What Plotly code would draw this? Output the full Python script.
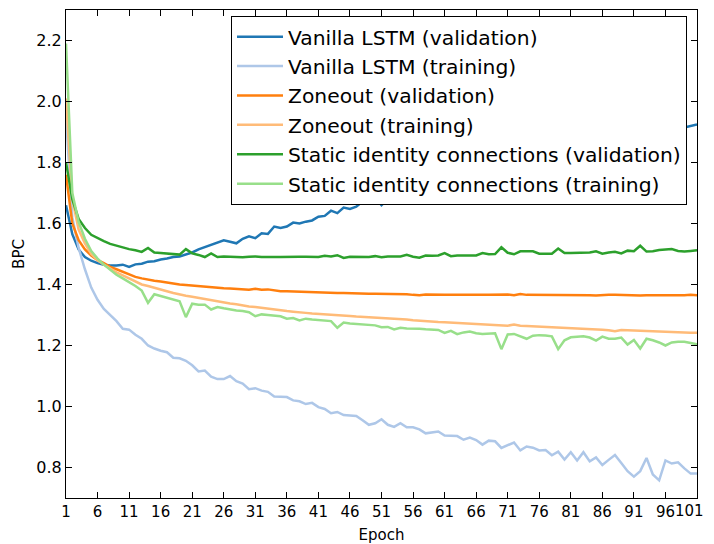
import plotly.graph_objects as go

epochs = list(range(1, 102))

vanilla_val = [
    1.66, 1.565, 1.515, 1.49, 1.478, 1.470, 1.465, 1.462, 1.462, 1.465,
    1.458, 1.466, 1.468, 1.475, 1.476, 1.482, 1.485, 1.49, 1.492, 1.498,
    1.505, 1.515, 1.522, 1.53, 1.536, 1.545, 1.54, 1.535, 1.55, 1.558,
    1.552, 1.568, 1.566, 1.59, 1.585, 1.59, 1.603, 1.60, 1.606, 1.61,
    1.622, 1.625, 1.642, 1.634, 1.652, 1.648, 1.655, 1.672, 1.678, 1.685,
    1.66, 1.68, 1.69, 1.695, 1.70, 1.71, 1.705, 1.715, 1.72, 1.73,
    1.725, 1.735, 1.74, 1.745, 1.75, 1.748, 1.76, 1.765, 1.77, 1.772,
    1.78, 1.785, 1.79, 1.788, 1.80, 1.805, 1.81, 1.815, 1.82, 1.818,
    1.83, 1.835, 1.84, 1.845, 1.85, 1.848, 1.86, 1.865, 1.87, 1.875,
    1.88, 1.878, 1.89, 1.893, 1.90, 1.903, 1.908, 1.91, 1.915, 1.92,
    1.925,
]

vanilla_train = [
    1.95, 1.62, 1.52, 1.45, 1.39, 1.35, 1.32, 1.30, 1.28, 1.255,
    1.252, 1.235, 1.222, 1.20, 1.19, 1.183, 1.178, 1.16, 1.158, 1.15,
    1.135, 1.115, 1.118, 1.098, 1.09, 1.09, 1.10, 1.083, 1.075, 1.057,
    1.06, 1.052, 1.048, 1.033, 1.032, 1.031, 1.02, 1.017, 1.008, 1.012,
    0.998, 0.992, 0.978, 0.982, 0.972, 0.970, 0.969, 0.955, 0.940, 0.945,
    0.958, 0.940, 0.933, 0.945, 0.932, 0.932, 0.925, 0.912, 0.915, 0.918,
    0.905, 0.904, 0.903, 0.891, 0.898, 0.89, 0.875, 0.888, 0.886, 0.864,
    0.872, 0.882, 0.856, 0.869, 0.865, 0.856, 0.857, 0.84, 0.852, 0.826,
    0.85, 0.823, 0.85, 0.82, 0.833, 0.808, 0.825, 0.841, 0.815, 0.788,
    0.77, 0.788, 0.831, 0.777, 0.758, 0.823, 0.813, 0.817, 0.797, 0.78,
    0.78,
]

zoneout_val = [
    1.76, 1.60, 1.545, 1.515, 1.495, 1.48, 1.47, 1.458, 1.45, 1.442,
    1.432, 1.425, 1.42, 1.415, 1.412, 1.41, 1.406, 1.403, 1.40, 1.398,
    1.396, 1.394, 1.392, 1.39, 1.389, 1.388, 1.387, 1.386, 1.385, 1.383,
    1.386, 1.383, 1.384, 1.380, 1.378, 1.378, 1.377, 1.376, 1.375, 1.374,
    1.374, 1.373, 1.373, 1.372, 1.372, 1.371, 1.370, 1.371, 1.370, 1.370,
    1.370, 1.369, 1.369, 1.368, 1.368, 1.366, 1.365, 1.367, 1.366, 1.365,
    1.366, 1.366, 1.365, 1.366, 1.366, 1.365, 1.366, 1.366, 1.367, 1.366,
    1.367, 1.365, 1.369, 1.366, 1.366, 1.365, 1.366, 1.366, 1.367, 1.366,
    1.365, 1.366, 1.366, 1.365, 1.364, 1.366, 1.366, 1.366, 1.365, 1.365,
    1.365, 1.364, 1.365, 1.365, 1.364, 1.363, 1.364, 1.364, 1.365, 1.366,
    1.365,
]

zoneout_train = [
    2.01, 1.68, 1.58, 1.535, 1.50, 1.48, 1.465, 1.452, 1.44, 1.43,
    1.42, 1.41, 1.40, 1.395, 1.39, 1.385, 1.378, 1.372, 1.367, 1.363,
    1.36, 1.356, 1.352, 1.35, 1.346, 1.342, 1.338, 1.335, 1.331, 1.328,
    1.326, 1.323, 1.32, 1.318, 1.315, 1.313, 1.311, 1.31, 1.307, 1.305,
    1.304, 1.302, 1.301, 1.30, 1.299, 1.297, 1.295, 1.294, 1.293, 1.292,
    1.29, 1.288, 1.287, 1.286, 1.285, 1.283, 1.281, 1.28, 1.279, 1.277,
    1.276, 1.275, 1.273, 1.272, 1.272, 1.271, 1.27, 1.269, 1.268, 1.266,
    1.265, 1.269, 1.265, 1.264, 1.263, 1.263, 1.262, 1.261, 1.261, 1.26,
    1.258, 1.257, 1.256, 1.255, 1.253, 1.252, 1.25, 1.247, 1.251, 1.25,
    1.249, 1.248, 1.247, 1.246, 1.245, 1.244, 1.244, 1.243, 1.243, 1.242,
    1.242,
]

static_val = [
    1.80, 1.68, 1.615, 1.585, 1.563, 1.552, 1.542, 1.533, 1.527, 1.52,
    1.516, 1.512, 1.507, 1.52, 1.505, 1.503, 1.502, 1.50, 1.498, 1.516,
    1.502, 1.497, 1.49, 1.502, 1.49, 1.492, 1.491, 1.49, 1.489, 1.491,
    1.492, 1.49, 1.491, 1.49, 1.49, 1.491, 1.492, 1.491, 1.491, 1.49,
    1.49, 1.494, 1.492, 1.496, 1.487, 1.491, 1.491, 1.492, 1.49, 1.493,
    1.489, 1.492, 1.491, 1.492, 1.497, 1.491, 1.488, 1.495, 1.494, 1.495,
    1.503, 1.493, 1.495, 1.495, 1.496, 1.495, 1.503, 1.499, 1.500, 1.522,
    1.504, 1.499, 1.509, 1.508, 1.509, 1.501, 1.501, 1.501, 1.518, 1.503,
    1.503, 1.504, 1.503, 1.505, 1.509, 1.501, 1.505, 1.507, 1.502, 1.511,
    1.509, 1.527, 1.508, 1.509, 1.513, 1.515, 1.516, 1.51, 1.508, 1.51,
    1.512,
]

static_train = [
    2.19, 1.70, 1.605, 1.55, 1.51, 1.485, 1.465, 1.448, 1.432, 1.42,
    1.408, 1.395, 1.38, 1.34, 1.368, 1.362, 1.357, 1.35, 1.345, 1.293,
    1.337, 1.334, 1.334, 1.318, 1.326, 1.322, 1.318, 1.315, 1.313, 1.309,
    1.296, 1.302, 1.30, 1.299, 1.296, 1.288, 1.29, 1.282, 1.288, 1.285,
    1.284, 1.281, 1.28, 1.258, 1.275, 1.272, 1.271, 1.27, 1.268, 1.266,
    1.26, 1.261, 1.253, 1.258, 1.256, 1.256, 1.255, 1.253, 1.252, 1.251,
    1.241, 1.248, 1.237, 1.243, 1.246, 1.24, 1.238, 1.24, 1.24, 1.188,
    1.236, 1.238, 1.23, 1.222, 1.232, 1.234, 1.233, 1.23, 1.188, 1.217,
    1.227, 1.229, 1.23, 1.226, 1.216, 1.229, 1.222, 1.222, 1.226, 1.203,
    1.218, 1.19, 1.222, 1.217, 1.21, 1.2, 1.21, 1.212, 1.212, 1.208,
    1.204,
]

series_names = [
    "Vanilla LSTM (validation)",
    "Vanilla LSTM (training)",
    "Zoneout (validation)",
    "Zoneout (training)",
    "Static identity connections (validation)",
    "Static identity connections (training)",
]
series_values = [vanilla_val, vanilla_train, zoneout_val, zoneout_train, static_val, static_train]
series_colors = ["#1f77b4", "#aec7e8", "#ff7f0e", "#ffbb78", "#2ca02c", "#98df8a"]

x_ticks = list(range(1, 102, 5))
x_tick_labels = [str(v) for v in x_ticks]
y_ticks = [0.8, 1.0, 1.2, 1.4, 1.6, 1.8, 2.0, 2.2]

fig = go.Figure()
for i, (name, vals, col) in enumerate(zip(series_names, series_values, series_colors)):
    fig.add_trace(go.Scatter(
        x=epochs, y=vals, mode="lines", name=name,
        line=dict(color=col, width=2.5),
        legendgroup=f"g{i}",
    ))

font_family = "DejaVu Sans"
axis_common = dict(
    showgrid=False, zeroline=False, automargin=False,
    showline=True, linecolor="black", linewidth=1,
    mirror="allticks", ticks="inside", ticklen=6, tickcolor="black", tickwidth=1,
)

# last x tick label is written as an annotation so it is not cut at the window edge
shown_labels = x_tick_labels[:-1] + [""]

fig.update_layout(
    width=706, height=536,
    margin=dict(l=58, r=17, t=2, b=46),
    paper_bgcolor="white", plot_bgcolor="white",
    font=dict(family=font_family, color="black"),
    xaxis=dict(range=[1, 101], tickvals=x_ticks, ticktext=shown_labels,
               tickfont=dict(family=font_family, size=15, color="black"),
               title=dict(text="Epoch", font=dict(size=15), standoff=9),
               **axis_common),
    yaxis=dict(range=[0.7, 2.3], tickvals=y_ticks, tickformat=".1f",
               tickfont=dict(family=font_family, size=16, color="black"),
               title=dict(text="BPC", font=dict(size=15), standoff=8),
               **axis_common),
    legend=dict(
        x=(687 - 66) / 631, y=(498 - 16) / 488, xanchor="right", yanchor="top",
        bgcolor="white", bordercolor="black", borderwidth=1,
        font=dict(family=font_family, size=20.3, color="black"),
        tracegroupgap=0, itemwidth=46,
    ),
    annotations=[dict(
        x=x_ticks[-1], xref="x", y=0, yref="paper",
        text=x_tick_labels[-1], showarrow=False,
        xanchor="right", yanchor="top", xshift=9, yshift=-2,
        font=dict(family=font_family, size=15, color="black"),
    )],
    showlegend=True,
)

fig.write_html("out.html")
